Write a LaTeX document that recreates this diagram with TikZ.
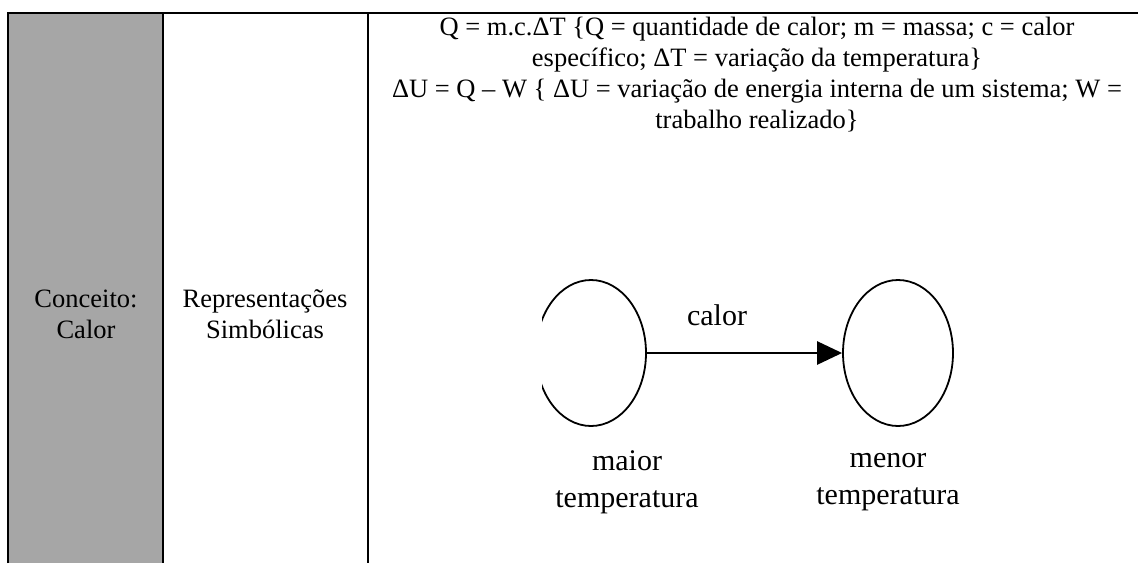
\documentclass[tikz,border=0pt]{standalone}
\usepackage{fontspec}
\setmainfont{Liberation Serif}
\usetikzlibrary{shapes.geometric,arrows.meta}

\begin{document}
\begin{tikzpicture}[x=1pt,y=-1pt,
    rule/.style={line width=2.6pt},
    celltext/.style={font=\fontsize{26.5}{31}\selectfont, align=center, inner sep=0pt},
    body/.style={draw, ellipse, line width=1.8pt, minimum width=110pt, minimum height=146pt, inner sep=0pt},
    tag/.style={font=\fontsize{30}{37}\selectfont, align=center, inner sep=0pt}]
  \useasboundingbox (0,0) rectangle (1138,563);

  % Table
  \fill[gray!70] (8,13) rectangle (163,563);
  \draw[rule] (8,563) -- (8,13) -- (1138,13);
  \draw[rule] (163,13) -- (163,563);
  \draw[rule] (368,13) -- (368,563);

  % Row heads
  \node[celltext] (concept) at (86,314) {Conceito:\\Calor};
  \node[celltext] (kind) at (265,314) {Representações\\Simbólicas};

  % Formulas
  \node[celltext, anchor=north] (formulas) at (757,16.5)
    {Q = m.c.ΔT \{Q = quantidade de calor; m = massa; c = calor\\
     específico; ΔT = variação da temperatura\}\\
     ΔU = Q – W \{ ΔU = variação de energia interna de um sistema; W =\\
     trabalho realizado\}};

  % Heat flow sketch
  \begin{scope}
    \clip (542,270) rectangle (700,440);
    \node[body] (hot) at (591,353) {};
  \end{scope}
  \node[body] (cold) at (898,353) {};
  \draw[line width=2.7pt, -{Triangle[length=25pt,width=23pt]}] (hot.east) -- (cold.west);
  \node[tag, anchor=base] (heat) at (717,325) {calor};
  \node[tag] (hotlabel) at (627,482) {maior\\temperatura};
  \node[tag] (coldlabel) at (888,482) {menor\\temperatura};
\end{tikzpicture}
\end{document}
